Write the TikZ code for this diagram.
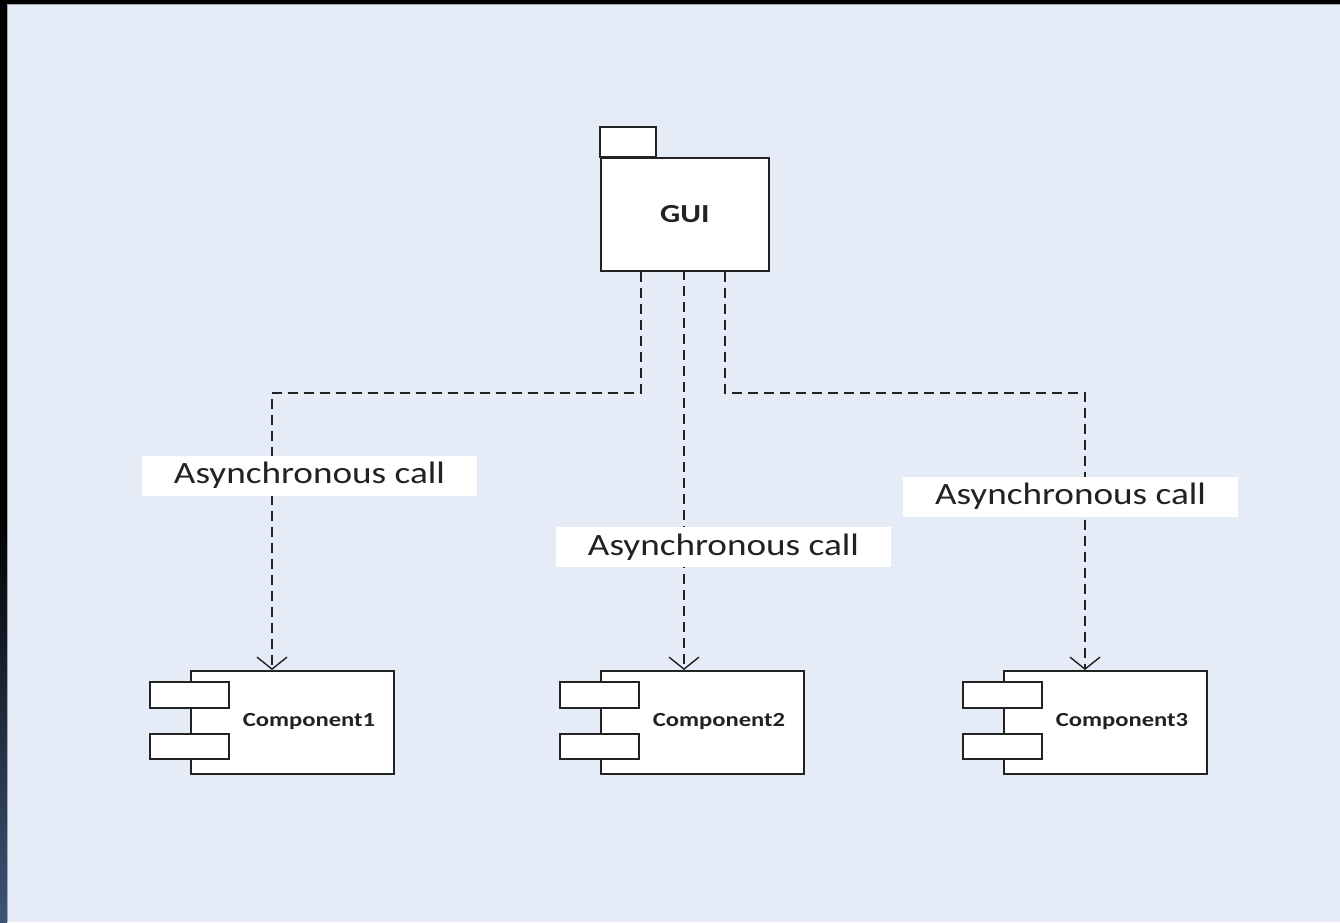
\documentclass[tikz,border=0pt]{standalone}
\usepackage{fontspec}
\setmainfont{Carlito}
\usetikzlibrary{arrows.meta}
\definecolor{canvas}{HTML}{E6ECF7}
\definecolor{ink}{HTML}{222222}
\definecolor{stripblue}{HTML}{3D5478}
\tikzset{
  x=1pt, y=-1pt,
  umlbox/.style={draw=ink, line width=1.7pt, fill=white},
  call/.style={draw=ink, line width=1.7pt, dash pattern=on 10pt off 6pt,
    -{Straight Barb[length=12pt, width=30pt, line width=1.4pt]}},
  calllabel/.style={fill=white, inner sep=0pt, minimum width=335pt, minimum height=40pt,
    font=\fontsize{31}{31}\selectfont, text=ink},
  compname/.style={font=\bfseries\fontsize{20}{20}\selectfont, text=ink},
}
\newcommand{\wide}[2]{\scalebox{#1}[1]{#2}}
\begin{document}
\begin{tikzpicture}
% canvas and window edges
\useasboundingbox (0,0) rectangle (1340,922);
\fill[canvas] (0,0) rectangle (1340,922);
\fill[black] (0,0) rectangle (1340,4);
\fill[black] (0,0) rectangle (7,510);
\shade[top color=black, bottom color=stripblue] (0,509) rectangle (7,922);
\draw[gray!70, line width=1pt] (7.5,4) -- (7.5,922);
\draw[gray!70, line width=1pt] (7,4.5) -- (1340,4.5);

% GUI package
\draw[umlbox] (600,127) rectangle (656,157);
\node[umlbox, minimum width=168pt, minimum height=113pt, inner sep=0pt,
      anchor=north west, font=\bfseries\fontsize{26}{26}\selectfont, text=ink]
      (gui) at (600,157) {\wide{1.22}{GUI}};

% components
\foreach \n/\x in {1/190, 2/600, 3/1003} {
  \node[umlbox, minimum width=203pt, minimum height=103pt, inner sep=0pt,
        anchor=north west] (c\n) at (\x,670) {};
  \draw[umlbox] (\x-40,682) rectangle (\x+39,708);
  \draw[umlbox] (\x-40,734) rectangle (\x+39,759);
  \node[compname] (c\n t) at (\x+119,721) {\wide{1.23}{Component\n}};
}

% connector bends
\coordinate (l1) at (641,393);
\coordinate (l2) at (272,393);
\coordinate (r1) at (725,393);
\coordinate (r2) at (1085,393);

\draw[call] (gui.south -| l1) -- (l1) -- (l2) -- (l2 |- c1.north);
\draw[call] (684,270) -- (684,670);
\draw[call] (gui.south -| r1) -- (r1) -- (r2) -- (r2 |- c3.north);

% labels
\node[calllabel] (lab1) at (309.5,475.5) {\wide{1.2}{Asynchronous call}};
\node[calllabel] (lab2) at (723.5,547) {\wide{1.2}{Asynchronous call}};
\node[calllabel] (lab3) at (1070.5,496.5) {\wide{1.2}{Asynchronous call}};
\end{tikzpicture}
\end{document}
